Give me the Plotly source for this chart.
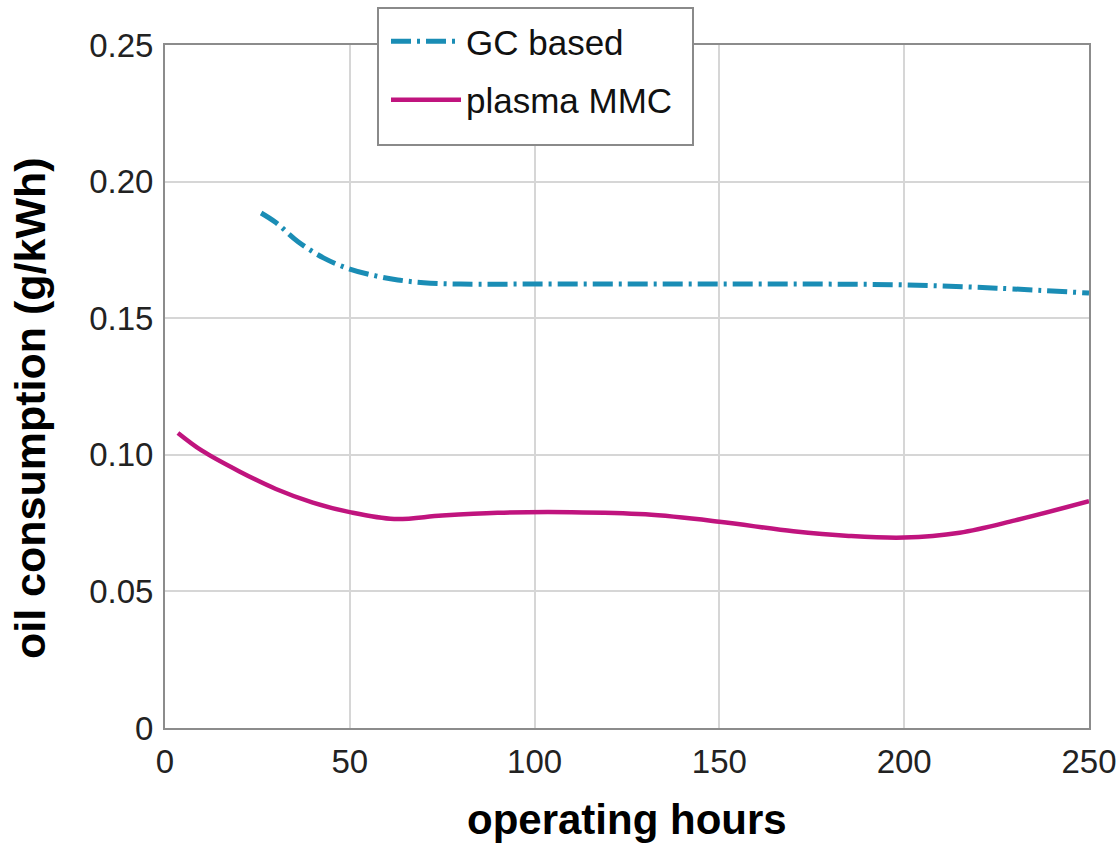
import plotly.graph_objects as go

gc_hours = [26, 30, 36, 43, 50, 57, 63, 70, 80, 100, 125, 150, 175, 200, 225, 250]
gc_oil = [0.1885, 0.185, 0.178, 0.172, 0.168, 0.1655, 0.164, 0.163, 0.1625, 0.1625,
          0.1625, 0.1625, 0.1625, 0.1622, 0.161, 0.1592]

mmc_hours = [3.5, 10, 20, 30, 40, 50, 62, 75, 90, 110, 130, 150, 170, 185, 200, 215, 230, 250]
mmc_oil = [0.108, 0.1015, 0.094, 0.0875, 0.0825, 0.0790, 0.0765, 0.0778, 0.0788, 0.0790,
           0.0782, 0.0755, 0.0720, 0.0703, 0.0697, 0.0715, 0.0760, 0.0830]

x_ticks = [0, 50, 100, 150, 200, 250]
y_ticks = [0, 0.05, 0.10, 0.15, 0.20, 0.25]
y_ticktext = ["0", "0.05", "0.10", "0.15", "0.20", "0.25"]

FONT = "Liberation Sans, Arial, sans-serif"

# plot area in pixels
L, R, T, B = 165, 1089, 45, 728
PW, PH = R - L, B - T


def px_x(p):
    return (p - L) / PW


def px_y(p):
    return (B - p) / PH


fig = go.Figure()
fig.add_trace(go.Scatter(
    x=gc_hours, y=gc_oil, mode="lines", name="GC based", legendgroup="a",
    line=dict(color="#1a8db5", width=5, dash="20px,6px,3px,6px", shape="spline"),
))
fig.add_trace(go.Scatter(
    x=mmc_hours, y=mmc_oil, mode="lines", name="plasma MMC", legendgroup="b",
    line=dict(color="#c0147e", width=4.5, shape="spline"),
))

fig.update_layout(
    width=1119, height=846, autosize=False,
    margin=dict(l=L, r=1119 - R, t=T, b=846 - B, pad=0),
    paper_bgcolor="white", plot_bgcolor="white",
    font=dict(family=FONT, size=33, color="#222"),
    showlegend=True,
    legend=dict(
        x=px_x(386), y=px_y(12), xanchor="left", yanchor="top",
        bgcolor="rgba(0,0,0,0)", borderwidth=0,
        font=dict(family=FONT, size=35, color="#111"),
        tracegroupgap=10, itemwidth=70,
    ),
    xaxis=dict(
        range=[0, 250], tickvals=x_ticks, showgrid=True, gridcolor="#d6d6d6", gridwidth=1.5,
        showline=True, mirror=True, linecolor="#8c8c8c", linewidth=2,
        ticks="", ticklabelstandoff=3, zeroline=False, automargin=False,
    ),
    yaxis=dict(
        range=[0, 0.25], tickvals=y_ticks, ticktext=y_ticktext, showgrid=True,
        gridcolor="#d6d6d6", gridwidth=1.5,
        showline=True, mirror=True, linecolor="#8c8c8c", linewidth=2,
        ticks="", ticklabelstandoff=3, zeroline=False, automargin=False,
    ),
    shapes=[
        dict(type="rect", xref="paper", yref="paper", layer="above",
             x0=px_x(378), x1=px_x(693), y0=px_y(145), y1=px_y(8),
             fillcolor="white", line=dict(color="#8a8a8a", width=2)),
    ],
    annotations=[
        dict(text="<b>operating hours</b>", x=0.5, y=px_y(820), xref="paper", yref="paper",
             xanchor="center", yanchor="middle",
             showarrow=False, font=dict(family=FONT, size=42, color="black")),
        dict(text="<b>oil consumption (g/kWh)</b>", x=px_x(30), y=px_y(408),
             xref="paper", yref="paper", xanchor="center", yanchor="middle",
             textangle=-90, showarrow=False, font=dict(family=FONT, size=43, color="black")),
    ],
)

fig.write_html("out.html", post_script="document.body.style.margin='0px';",
               config={"displayModeBar": False})
